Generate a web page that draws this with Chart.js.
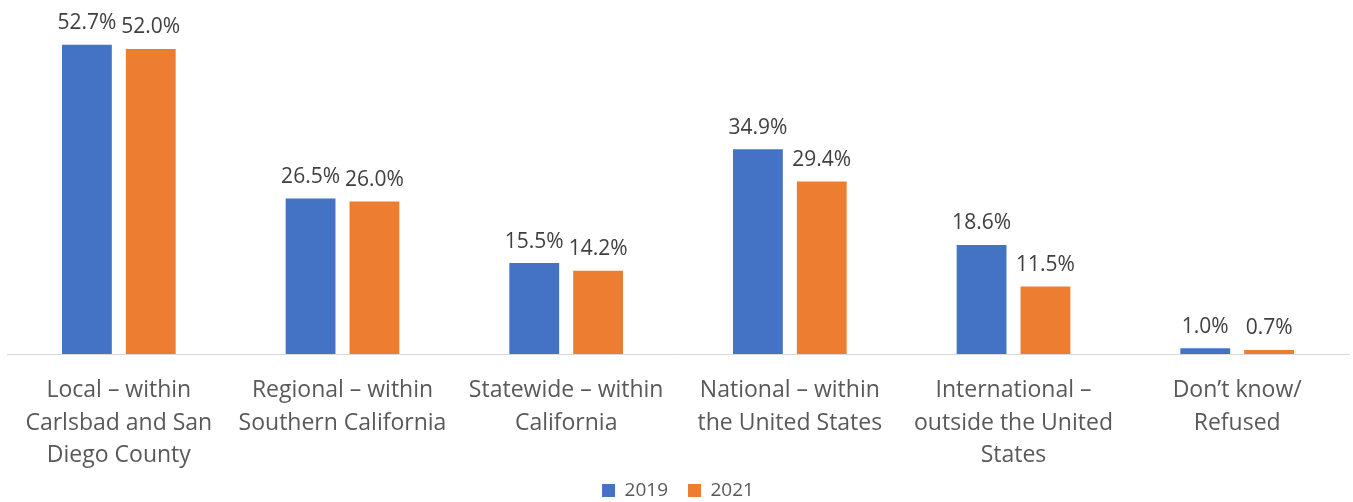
<!DOCTYPE html>
<html>
<head>
<meta charset="utf-8">
<script src="https://cdn.jsdelivr.net/npm/chart.js@4"></script>
<style>
  html, body { margin: 0; padding: 0; background: #fff; }
  #wrap { width: 1353px; height: 502px; }
</style>
</head>
<body>
<div id="wrap"><canvas id="myChart"></canvas></div>
<script>
let labels = [
	['Local – within', 'Carlsbad and San', 'Diego County'],
	['Regional – within', 'Southern California'],
	['Statewide – within', 'California'],
	['National – within', 'the United States'],
	['International –', 'outside the United', 'States'],
	['Don’t know/', 'Refused']
];
let values2019 = [52.7, 26.5, 15.5, 34.9, 18.6, 1.0];
let values2021 = [52.0, 26.0, 14.2, 29.4, 11.5, 0.7];
let colorHex = ['#4472C4', '#ED7D31'];

// draws the value above each bar
let barLabels = {
	id: 'barLabels',
	afterDatasetsDraw(chart) {
		let c = chart.ctx;
		c.save();
		c.font = '21px "Open Sans"';
		c.fillStyle = '#404040';
		c.textAlign = 'center';
		c.textBaseline = 'bottom';
		chart.data.datasets.forEach((ds, i) => {
			chart.getDatasetMeta(i).data.forEach((bar, j) => {
				c.fillText(ds.data[j].toFixed(1) + '%', bar.x, bar.y - 11);
			});
		});
		c.restore();
	}
};

let ctx = document.getElementById('myChart').getContext('2d');
let myChart = new Chart(ctx, {
	type: 'bar',
	data: {
		labels: labels,
		datasets: [
			{ label: '2019', data: values2019, backgroundColor: colorHex[0] },
			{ label: '2021', data: values2021, backgroundColor: colorHex[1] }
		]
	},
	options: {
		responsive: true,
		maintainAspectRatio: false,
		animation: false,
		layout: { padding: { top: 2, left: 7, right: 4, bottom: -8 } },
		datasets: {
			bar: { categoryPercentage: 0.571, barPercentage: 0.78 }
		},
		scales: {
			x: {
				grid: { display: false, drawTicks: false },
				border: { display: true, color: '#d9d9d9', width: 1 },
				ticks: {
					color: '#595959',
					padding: 20,
					maxRotation: 0,
					autoSkip: false,
					font: { family: 'Open Sans', size: 23, lineHeight: 1.42 }
				},
				// labels run into the space above the legend, so no clipping
				afterFit: (scale) => {
					scale.height -= 31;
					scale._computeLabelArea = () => undefined;
				}
			},
			y: {
				display: false,
				min: 0,
				max: 60
			}
		},
		plugins: {
			legend: {
				position: 'bottom',
				labels: {
					color: '#595959',
					boxWidth: 13,
					boxHeight: 13,
					padding: 20,
					font: { family: 'Open Sans', size: 19 }
				}
			},
			tooltip: { enabled: false }
		}
	},
	plugins: [barLabels]
});
</script>
</body>
</html>
